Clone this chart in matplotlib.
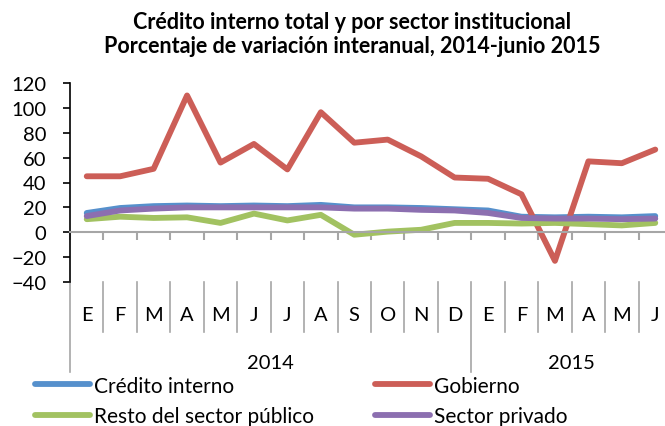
import matplotlib.pyplot as plt
from matplotlib import transforms

plt.rcParams['font.family'] = ['Lato', 'DejaVu Sans']

# months (E = enero ... J = junio), 2014 then 2015
meses = ['E', 'F', 'M', 'A', 'M', 'J', 'J', 'A', 'S', 'O', 'N', 'D',
         'E', 'F', 'M', 'A', 'M', 'J']
anios = ['2014', '2015']
n_2014 = 12

credito_interno = [15.5, 19.5, 21, 21.5, 21, 21.5, 21, 22, 20, 20, 19.5, 18.5,
                   17.5, 12.5, 12, 12.5, 12, 13]
gobierno = [45, 45, 51, 110, 56, 71, 50.5, 96.5, 72, 74.5, 61, 44,
            43, 30.5, -23, 57, 55.5, 66.5]
resto_publico = [10.5, 12.5, 11.5, 12, 7.5, 15, 9.5, 14, -2, 0.5, 2, 7.5,
                 7.5, 7, 7.5, 6.5, 5.5, 7.5]
sector_privado = [13, 17.5, 19, 20, 20, 20, 20, 20, 19, 19, 18, 17.5,
                  15.5, 11.5, 11, 11, 10.5, 11]

azul = '#5690CC'
rojo = '#CC5E57'
verde = '#A2C261'
morado = '#8C6FB0'
gris = '#A6A6A6'

fig = plt.figure(figsize=(6.65, 4.27), dpi=100)
ax = fig.add_axes([70 / 665, (427 - 283) / 427, 602 / 665, 199 / 427])

x = list(range(len(meses)))
lw = 4.2
l1, = ax.plot(x, credito_interno, color=azul, lw=lw, solid_capstyle='round')
l2, = ax.plot(x, gobierno, color=rojo, lw=lw, solid_capstyle='round')
l3, = ax.plot(x, resto_publico, color=verde, lw=lw, solid_capstyle='round')
l4, = ax.plot(x, sector_privado, color=morado, lw=lw, solid_capstyle='round')

ax.set_xlim(-0.5, len(meses) - 0.5)
ax.set_ylim(-40, 120)
ax.set_yticks(range(-40, 121, 20))
ax.tick_params(axis='y', labelsize=14.5, length=5, width=1.2, color='black', pad=12)

# x axis line at zero, gray, with ticks at category boundaries
for s in ['top', 'right']:
    ax.spines[s].set_visible(False)
ax.spines['left'].set_linewidth(1.2)
ax.spines['bottom'].set_position(('data', 0))
ax.spines['bottom'].set_color(gris)
ax.spines['bottom'].set_linewidth(1.5)
ax.set_xticks([i - 0.5 for i in range(len(meses) + 1)])
ax.set_xticklabels([])
ax.tick_params(axis='x', length=6, width=1.5, color=gris)

# category labels below the plot area
tr = transforms.blended_transform_factory(ax.transData, ax.transAxes)
for i, m in enumerate(meses):
    ax.text(i, -0.165, m, transform=tr, ha='center', va='center', fontsize=14.5)
for b in range(len(meses) + 1):
    bottom = -0.45 if b in (0, n_2014) else -0.25
    ax.plot([b - 0.5, b - 0.5], [0, bottom], transform=tr, color=gris,
            lw=1.2, clip_on=False)
ax.text((n_2014 - 1) / 2, -0.405, anios[0], transform=tr, ha='center', va='center', fontsize=14.5)
ax.text((n_2014 + len(meses) - 1) / 2, -0.405, anios[1], transform=tr, ha='center', va='center', fontsize=14.5)

fig.text(0.53, 0.947, 'Crédito interno total y por sector institucional',
         ha='center', va='center', fontsize=15.5, fontweight='bold')
fig.text(0.53, 0.892, 'Porcentaje de variación interanual, 2014-junio 2015',
         ha='center', va='center', fontsize=15.5, fontweight='bold')

fig.legend([l1, l3, l2, l4],
           ['Crédito interno', 'Resto del sector público', 'Gobierno', 'Sector privado'],
           ncol=2, loc='lower left', bbox_to_anchor=(0.04, -0.02), frameon=False,
           fontsize=15, handlelength=2.65, handletextpad=0.2, columnspacing=2.9,
           labelspacing=0.5, borderaxespad=0)

fig.savefig('out.png', dpi=100)
